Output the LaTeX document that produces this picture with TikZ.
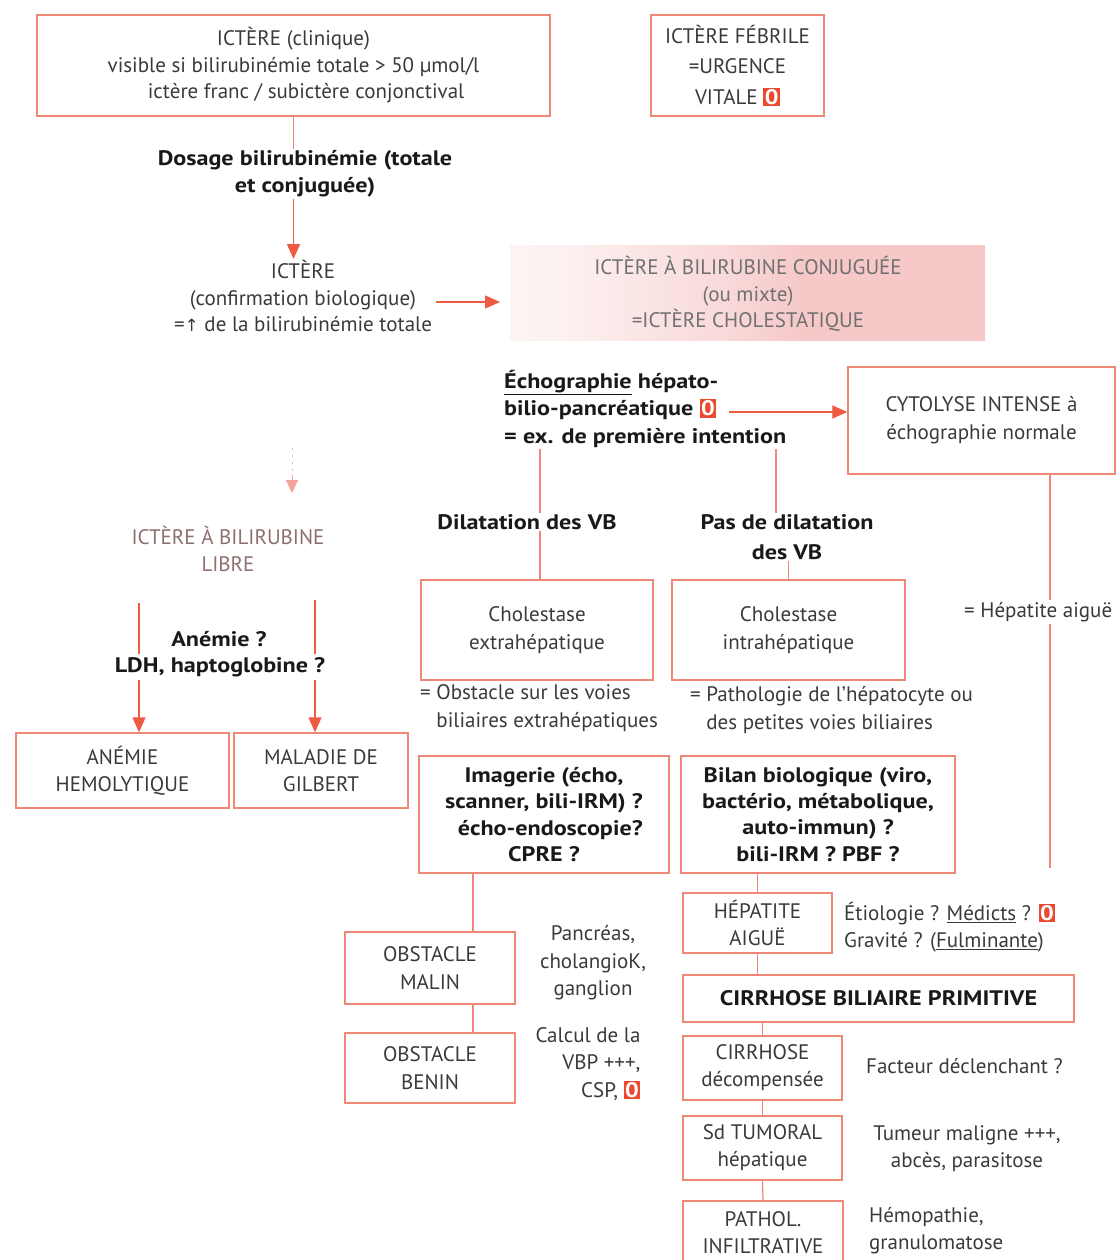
\documentclass[tikz,border=0pt]{standalone}
\usepackage{fontspec}
\setmainfont{PT Sans}[FakeStretch=1.0, BoldFeatures={FakeStretch=1.15}]
\newfontfamily\dejavu{DejaVu Sans}
\usetikzlibrary{arrows.meta,calc}
\definecolor{boxc}{HTML}{F08878}
\definecolor{arrc}{HTML}{EE5A42}
\definecolor{txt}{HTML}{3A3A3A}
\definecolor{badge}{HTML}{EC4A30}
\definecolor{pinkA}{HTML}{F6C8C8}
\definecolor{libc}{HTML}{8E6E6E}
\definecolor{conjc}{HTML}{707070}
\pgfdeclarehorizontalshading{conjshade}{100bp}{color(0bp)=(white); color(30bp)=(pinkA!25); color(48bp)=(pinkA!70); color(56bp)=(pinkA); color(100bp)=(pinkA)}
\newcommand{\zbadge}{{\setlength{\fboxsep}{1.5pt}\colorbox{badge}{\textcolor{white}{\textbf{0}}}}}
\tikzset{
  every node/.style={font=\fontsize{21}{26.5}\selectfont, text=txt},
  boxn/.style={draw=boxc, line width=1.4pt, rectangle, inner sep=2pt, align=center},
  plain/.style={align=center, inner sep=1pt},
  boldt/.style={align=center, inner sep=1pt, font=\fontsize{21}{27}\selectfont\bfseries, text=black!90},
  link/.style={draw=boxc, line width=1.2pt},
  arr/.style={draw=arrc, line width=1.3pt, -{Triangle[length=15pt,width=13pt]}},
}
\begin{document}
\begin{tikzpicture}[x=1pt,y=-1pt]
\useasboundingbox (0,0) rectangle (1119,1260);

% top row
\node[boxn, minimum width=513pt, minimum height=101pt] (top) at (293.5,65.5)
  {ICTÈRE (clinique)\\visible si bilirubinémie totale > 50 µmol/l\\\hspace*{1.2em}ictère franc / subictère conjonctival};
\node[boxn, minimum width=173pt, minimum height=101pt, font=\fontsize{21}{30.5}\selectfont] (feb) at (737.5,65.5)
  {ICTÈRE FÉBRILE\\=URGENCE\\VITALE \zbadge};

\node[boldt] (dos) at (305,174) {Dosage bilirubinémie (totale\\et conjuguée)};
\node[plain] (ict) at (303,296) {ICTÈRE\\(confirmation biologique)\\={\dejavu\fontsize{17}{20}\selectfont ↑} de la bilirubinémie totale};

\draw[link] (top.south) -- (top.south |- dos.north);
\draw[arr] (dos.south -| top.south) -- (ict.north -| top.south);

% conjugated region
\shade[shading=conjshade] (510,245) rectangle (985,340);
\node[plain, text=conjc] (conj) at (748,294) {ICTÈRE À BILIRUBINE CONJUGUÉE\\(ou mixte)\\=ICTÈRE CHOLESTATIQUE};
\coordinate (conjW) at (500,302);
\draw[arr] (ict.east |- conjW) ++(3,0) -- (conjW);

% echographie
\node[boldt, align=left, anchor=north west, font=\fontsize{21}{27.5}\selectfont\bfseries] (echo) at (503,369)
  {\underline{Échographie} hépato-\\bilio-pancréatique \zbadge\\= ex. de première intention};
\node[boxn, minimum width=267pt, minimum height=107pt, font=\fontsize{21}{28}\selectfont] (cyto) at (981.5,420.5)
  {CYTOLYSE INTENSE à\\échographie normale};
\coordinate (echoR) at (729,412);
\draw[arr] (echoR) -- (echoR -| cyto.west);

% branches
\node[boldt] (dil) at (527,522) {Dilatation des VB};
\node[boldt, font=\fontsize{21}{30}\selectfont\bfseries] (pas) at (787,537) {Pas de dilatation\\des VB};

\node[boxn, minimum width=232pt, minimum height=100pt, font=\fontsize{21}{28}\selectfont] (cext) at (537,630) {Cholestase\\extrahépatique};
\node[boxn, minimum width=233pt, minimum height=100pt, font=\fontsize{21}{28}\selectfont] (cint) at (788.5,630) {Cholestase\\intrahépatique};

\coordinate (lx1) at (540,0);
\coordinate (lx2) at (776,0);
\draw[link] (echo.south -| lx1) -- (dil.north -| lx1);
\draw[link] (dil.south -| lx1) -- (cext.north -| lx1);
\draw[link] (echo.south -| lx2) -- (pas.north -| lx2);
\draw[link] (pas.south -| cint.north) -- (cint.north);

\node[plain, align=left, anchor=north west, font=\fontsize{21}{28}\selectfont] (obst) at (419,683)
  {= Obstacle sur les voies\\\phantom{= }biliaires extrahépatiques};
\node[plain, align=left, anchor=north west, font=\fontsize{21}{28}\selectfont] (patho) at (689,685)
  {= Pathologie de l'hépatocyte ou\\\phantom{= }des petites voies biliaires};

% hepatite line
\coordinate (cytoEnd) at (1050,868);
\draw[link] (cyto.south -| cytoEnd) -- (cytoEnd);
\node[plain, fill=white, inner sep=2pt, anchor=west] (hepa) at (962,612) {= Hépatite aiguë};

% imagerie / bilan
\node[boxn, minimum width=250pt, minimum height=117pt, boldt, draw=boxc, font=\fontsize{21}{26.3}\selectfont\bfseries] (imag) at (544,814.5)
  {Imagerie (écho,\\scanner, bili-IRM) ?\\\hspace*{0.6em}écho-endoscopie?\\CPRE ?};
\node[boxn, minimum width=274pt, minimum height=117pt, boldt, draw=boxc, font=\fontsize{21}{26.3}\selectfont\bfseries] (bilan) at (818,814.5)
  {Bilan biologique (viro,\\bactério, métabolique,\\auto-immun) ?\\bili-IRM ? PBF ?};

% obstacles
\node[boxn, minimum width=170pt, minimum height=72pt, font=\fontsize{21}{28}\selectfont] (malin) at (430,968) {OBSTACLE\\MALIN};
\node[boxn, minimum width=170pt, minimum height=70pt, font=\fontsize{21}{28}\selectfont] (benin) at (430,1068) {OBSTACLE\\BENIN};
\draw[link] ([xshift=43pt]malin.north) -- ([xshift=43pt]malin.north |- imag.south);
\draw[link] ([xshift=43pt]malin.south) -- ([xshift=43pt]benin.north);
\node[plain, font=\fontsize{21}{27.5}\selectfont] (panc) at (593,963) {Pancréas,\\cholangioK,\\ganglion};
\node[plain, align=right, font=\fontsize{21}{27.5}\selectfont] (calc) at (588,1064) {Calcul de la\\VBP +++,\\CSP, \zbadge};

% right column
\node[boxn, minimum width=149pt, minimum height=60pt, font=\fontsize{21}{27}\selectfont] (hepag) at (757.5,923) {HÉPATITE\\AIGUË};
\node[plain, align=left, anchor=west, font=\fontsize{21}{27}\selectfont] (etio) at (843,927)
  {Étiologie ? \underline{Médicts} ? \zbadge\\Gravité ? (\underline{Fulminante})};
\node[boxn, minimum width=391pt, minimum height=47pt, font=\fontsize{21}{27}\selectfont\bfseries, text=black!90] (cbp) at (878.5,998.5) {CIRRHOSE BILIAIRE PRIMITIVE};
\node[boxn, minimum width=159pt, minimum height=64pt, font=\fontsize{21}{27}\selectfont] (cdec) at (762.5,1068) {CIRRHOSE\\décompensée};
\node[plain, anchor=west] (fact) at (865,1066) {Facteur déclenchant ?};
\node[boxn, minimum width=159pt, minimum height=64pt, font=\fontsize{21}{27}\selectfont] (tum) at (762.5,1148) {Sd TUMORAL\\hépatique};
\node[plain, font=\fontsize{21}{27}\selectfont] (tumt) at (967,1149) {Tumeur maligne +++,\\abcès, parasitose};
\node[boxn, minimum width=160pt, minimum height=64pt, font=\fontsize{21}{27}\selectfont] (path) at (763,1233) {PATHOL.\\INFILTRATIVE};
\node[plain, align=left, anchor=west, font=\fontsize{21}{27}\selectfont] (hemo) at (868,1231) {Hémopathie,\\granulomatose};

\draw[link] (hepag.north) -- (hepag.north |- bilan.south);
\draw[link] (hepag.south) -- (hepag.south |- cbp.north);
\draw[link] (cdec.north |- cbp.south) -- (cdec.north);
\draw[link] (cdec.south) -- (tum.north);
\draw[link] (tum.south) -- (path.north);

% left side
\coordinate (fa1) at (292,448);
\coordinate (fa2) at (292,493);
\draw[draw=arrc!45, line width=1pt, dash pattern=on 2pt off 5pt] (fa1) -- ($(fa1)!0.6!(fa2)$);
\draw[draw=arrc!55, line width=1pt, -{Triangle[length=13pt,width=12pt]}] ($(fa1)!0.6!(fa2)$) -- (fa2);
\node[plain, text=libc] (libre) at (228,549) {ICTÈRE À BILIRUBINE\\LIBRE};

\node[boxn, minimum width=213pt, minimum height=75pt, font=\fontsize{21}{27}\selectfont] (anem) at (122.5,770.5) {ANÉMIE\\HEMOLYTIQUE};
\node[boxn, minimum width=174pt, minimum height=75pt, font=\fontsize{21}{27}\selectfont] (gilb) at (321,770.5) {MALADIE DE\\GILBERT};
\coordinate (la) at (139,603);
\coordinate (ra) at (315,600);
\draw[arr] (la) -- (la |- anem.north);
\draw[arr] (ra) -- (ra |- gilb.north);
\node[boldt] (anq) at (219,639) {Anémie ?};
\node[boldt, fill=white, inner sep=3pt] (ldh) at (220,667) {LDH, haptoglobine ?};
\end{tikzpicture}
\end{document}
